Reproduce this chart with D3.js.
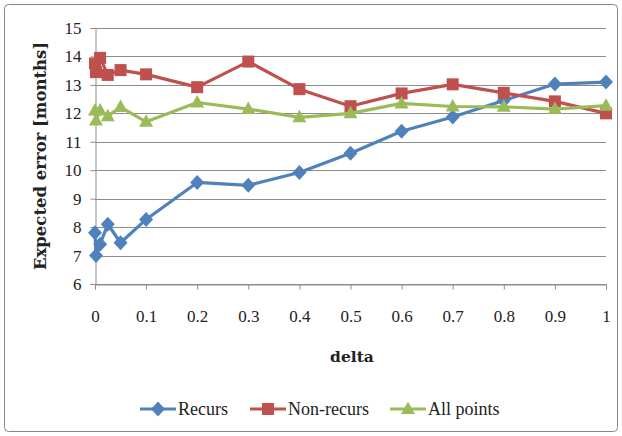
<!DOCTYPE html>
<html><head><meta charset="utf-8">
<script src="https://cdn.jsdelivr.net/npm/d3@7"></script>
<style>body{margin:0;background:#fff}svg{display:block}</style>
</head><body>
<svg id="c" width="622" height="436"></svg>
<script>
const deltas = [0, 0.002, 0.01, 0.025, 0.05, 0.1, 0.2, 0.3, 0.4, 0.5, 0.6, 0.7, 0.8, 0.9, 1];
const recurs = [7.8, 7.0, 7.4, 8.1, 7.45, 8.27, 9.57, 9.47, 9.92, 10.6, 11.37, 11.87, 12.45, 13.03, 13.1];
const nonRecurs = [13.75, 13.45, 13.95, 13.35, 13.52, 13.37, 12.92, 13.82, 12.85, 12.25, 12.7, 13.02, 12.72, 12.42, 12.0];
const allPoints = [12.1, 11.75, 12.1, 11.9, 12.22, 11.7, 12.38, 12.15, 11.86, 12.0, 12.35, 12.24, 12.23, 12.15, 12.27];
const xTicks = [0, 0.1, 0.2, 0.3, 0.4, 0.5, 0.6, 0.7, 0.8, 0.9, 1];
const yTicks = [6, 7, 8, 9, 10, 11, 12, 13, 14, 15];
const seriesNames = ["Recurs", "Non-recurs", "All points"];
const colors = ["#4F81BD", "#C0504D", "#9BBB59"];

const svg = d3.select("#c");
const font = "'Liberation Serif','DejaVu Serif',serif";
const boldFont = "'DejaVu Serif','Liberation Serif',serif";
svg.append("rect").attr("x", 4.5).attr("y", 4.5).attr("width", 613).attr("height", 427)
  .attr("rx", 4).attr("fill", "#fff").attr("stroke", "#888").attr("stroke-width", 1);

const x = d3.scaleLinear().domain([0, 1]).range([95, 606]);
const y = d3.scaleLinear().domain([6, 15]).range([284, 28]);

// gridlines
svg.append("g").selectAll("line").data(yTicks).join("line")
  .attr("x1", x(0)).attr("x2", x(1))
  .attr("y1", d => Math.round(y(d)) + 0.5).attr("y2", d => Math.round(y(d)) + 0.5)
  .attr("stroke", "#8c8c8c").attr("stroke-width", 1);

// y axis
const ya = svg.append("g").attr("transform", `translate(${Math.round(x(0)) + 0.5},0)`)
  .call(d3.axisLeft(y).tickValues(yTicks).tickSize(5).tickPadding(9));
ya.select(".domain").attr("stroke", "#8c8c8c");
ya.selectAll(".tick line").attr("stroke", "#8c8c8c");
ya.selectAll("text").attr("font-family", font).attr("font-size", 17).attr("fill", "#222");

// x axis
const xa = svg.append("g").attr("transform", `translate(0,${Math.round(y(6)) + 0.5})`)
  .call(d3.axisBottom(x).tickValues(xTicks).tickFormat(d3.format("")).tickSize(5).tickPadding(20));
xa.select(".domain").attr("stroke", "#8c8c8c");
xa.selectAll(".tick line").attr("stroke", "#8c8c8c");
xa.selectAll("text").attr("font-family", font).attr("font-size", 17).attr("fill", "#222");

svg.append("text").attr("x", 352).attr("y", 362).attr("text-anchor", "middle")
  .attr("font-family", boldFont).attr("font-size", 15.5).attr("font-weight", "bold").attr("fill", "#222").text("delta");
svg.append("text").attr("transform", "translate(46,156) rotate(-90)").attr("text-anchor", "middle")
  .attr("font-family", boldFont).attr("font-size", 16.5).attr("font-weight", "bold").attr("fill", "#222").text("Expected error [months]");

const data = [recurs, nonRecurs, allPoints];
const line = d3.line().x((d, i) => x(deltas[i])).y(d => y(d));

function marker(g, k, cx, cy) {
  if (k === 0) g.append("path").attr("d", `M${cx},${cy - 7.5}L${cx + 7},${cy}L${cx},${cy + 7.5}L${cx - 7},${cy}Z`).attr("fill", colors[0]);
  else if (k === 1) g.append("rect").attr("x", cx - 6).attr("y", cy - 6).attr("width", 12).attr("height", 12).attr("fill", colors[1]);
  else g.append("path").attr("d", `M${cx},${cy - 7.5}L${cx + 7},${cy + 5}L${cx - 7},${cy + 5}Z`).attr("fill", colors[2]);
}

data.forEach((vals, k) => {
  const g = svg.append("g");
  g.append("path").datum(vals).attr("d", line).attr("fill", "none")
    .attr("stroke", colors[k]).attr("stroke-width", 3.2).attr("stroke-linejoin", "round");
  vals.forEach((v, i) => marker(g, k, x(deltas[i]), y(v)));
});

// legend
const legX = [140, 250, 390];
seriesNames.forEach((n, k) => {
  const g = svg.append("g");
  g.append("line").attr("x1", legX[k]).attr("x2", legX[k] + 36).attr("y1", 409).attr("y2", 409)
    .attr("stroke", colors[k]).attr("stroke-width", 3.2);
  marker(g, k, legX[k] + 18, 409);
  g.append("text").attr("x", legX[k] + 38).attr("y", 415).attr("font-family", font).attr("font-size", 18)
    .attr("fill", "#222").text(n);
});
</script>
</body></html>
